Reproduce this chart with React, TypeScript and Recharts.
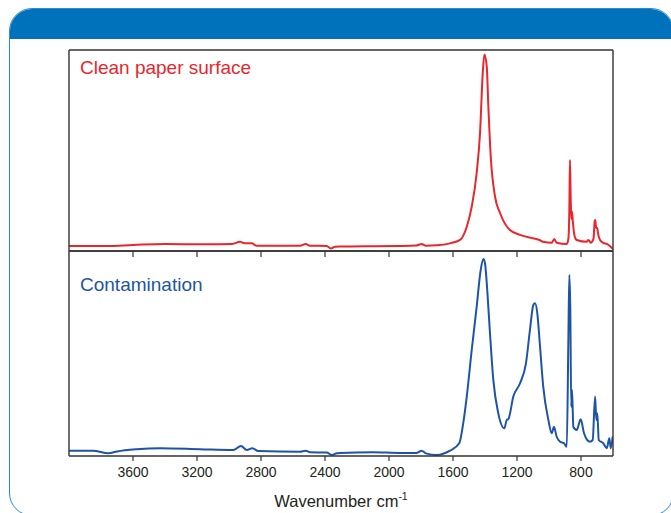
import React from "react";
import { LineChart, Line, XAxis, YAxis } from "recharts";

const xTicks = [3600, 3200, 2800, 2400, 2000, 1600, 1200, 800];

const cleanWavenumber = [
  4000, 3762, 3600, 3400, 3150, 2980, 2931, 2900, 2858, 2827, 2556, 2521, 2494, 2389, 2364, 2337, 2306, 2100,
  1931, 1830, 1796, 1770, 1700, 1619, 1556, 1514, 1483, 1452, 1431, 1414, 1404, 1389, 1379, 1364, 1337, 1306,
  1244, 1181, 1100, 1081, 1060, 1037, 983, 967, 952, 889, 879, 873, 869, 864, 860, 856, 851, 840, 827, 764,
  754, 739, 722, 714, 711, 706, 702, 698, 694, 681, 660, 639, 620, 600,
];
const cleanAbsorbance = [
  0.025, 0.025, 0.03, 0.035, 0.033, 0.035, 0.046, 0.038, 0.038, 0.026, 0.026, 0.035, 0.026, 0.025, 0.013, 0.021,
  0.022, 0.024, 0.025, 0.027, 0.035, 0.026, 0.028, 0.038, 0.055, 0.121, 0.22, 0.388, 0.587, 0.886, 0.977, 0.917,
  0.718, 0.469, 0.27, 0.189, 0.104, 0.08, 0.063, 0.06, 0.055, 0.046, 0.041, 0.06, 0.041, 0.035, 0.06, 0.2, 0.453,
  0.25, 0.16, 0.196, 0.146, 0.075, 0.055, 0.046, 0.055, 0.041, 0.06, 0.15, 0.154, 0.12, 0.114, 0.114, 0.09,
  0.055, 0.04, 0.035, 0.025, 0.01,
];

const contamWavenumber = [
  4000, 3850, 3754, 3700, 3577, 3431, 3181, 2973, 2925, 2889, 2854, 2817, 2556, 2521, 2494, 2389, 2358, 2327,
  2306, 2100, 1931, 1830, 1796, 1770, 1702, 1619, 1561, 1536, 1514, 1483, 1452, 1427, 1410, 1400, 1386, 1369,
  1348, 1317, 1279, 1264, 1254, 1223, 1181, 1144, 1119, 1098, 1087, 1073, 1056, 1036, 1004, 983, 969, 952, 931,
  906, 889, 879, 873, 867, 861, 856, 848, 827, 802, 781, 761, 744, 727, 712, 704, 698, 689, 661, 639, 623, 614,
  602,
];
const contamAbsorbance = [
  0.026, 0.026, 0.013, 0.022, 0.033, 0.038, 0.033, 0.029, 0.049, 0.029, 0.038, 0.024, 0.021, 0.026, 0.018,
  0.017, 0.005, 0.013, 0.015, 0.018, 0.015, 0.015, 0.026, 0.013, 0.005, 0.026, 0.062, 0.16, 0.29, 0.517, 0.728,
  0.907, 0.961, 0.94, 0.81, 0.6, 0.371, 0.208, 0.135, 0.176, 0.18, 0.29, 0.355, 0.452, 0.615, 0.737, 0.745,
  0.696, 0.533, 0.338, 0.176, 0.111, 0.143, 0.094, 0.07, 0.062, 0.045, 0.566, 0.883, 0.728, 0.24, 0.322, 0.143,
  0.127, 0.179, 0.111, 0.078, 0.07, 0.078, 0.29, 0.176, 0.208, 0.078, 0.062, 0.038, 0.086, 0.038, 0.094,
];

const cleanData = cleanWavenumber.map((w, i) => ({ w, a: cleanAbsorbance[i] }));
const contamData = contamWavenumber.map((w, i) => ({ w, a: contamAbsorbance[i] }));

const FONT = "'Liberation Sans', Arial, sans-serif";
const AXIS = "#333333";
const RED = "#e8262c";
const BLUE = "#1d54a6";

// plot area: x 69..613 ; top panel y 50..251 ; bottom panel y 251..456
function Panel({ data, color, height, marginTop, marginBottom, bottomH, showLabels }: any) {
  return (
    <div style={{ position: "absolute", left: 0, top: 0 }}>
      <LineChart
        width={671}
        height={height}
        data={data}
        margin={{ top: marginTop, right: 48, bottom: marginBottom, left: 59 }}
      >
        <XAxis
          xAxisId="b"
          dataKey="w"
          type="number"
          domain={[600, 4000]}
          reversed
          ticks={xTicks}
          height={bottomH}
          orientation="bottom"
          allowDataOverflow
          axisLine={{ stroke: AXIS, strokeWidth: 1.4 }}
          tickLine={{ stroke: AXIS, strokeWidth: 1.2 }}
          tickSize={showLabels ? 5 : 6}
          tickMargin={6}
          tick={{ fontSize: 14, fill: "#231f20", fontFamily: FONT }}
          tickFormatter={(v: number) => (showLabels ? String(v) : "")}
          interval={0}
        />
        <XAxis
          xAxisId="t"
          dataKey="w"
          type="number"
          domain={[600, 4000]}
          reversed
          orientation="top"
          height={10}
          tick={false}
          tickLine={false}
          axisLine={{ stroke: AXIS, strokeWidth: 1.4 }}
        />
        <YAxis
          yAxisId="l"
          type="number"
          domain={[0, 1]}
          width={10}
          tick={false}
          tickLine={false}
          allowDataOverflow
          axisLine={{ stroke: AXIS, strokeWidth: 1.4 }}
        />
        <YAxis
          yAxisId="r"
          orientation="right"
          type="number"
          domain={[0, 1]}
          width={10}
          tick={false}
          tickLine={false}
          axisLine={{ stroke: AXIS, strokeWidth: 1.4 }}
        />
        <Line
          xAxisId="b"
          yAxisId="l"
          dataKey="a"
          type="monotone"
          stroke={color}
          strokeWidth={2}
          dot={false}
          isAnimationActive={false}
        />
      </LineChart>
    </div>
  );
}

export default function App() {
  return (
    <div
      style={{
        position: "absolute",
        left: 0,
        top: 0,
        width: 671,
        height: 513,
        overflow: "hidden",
        background: "#ffffff",
        fontFamily: FONT,
      }}
    >
      <div
        style={{
          position: "absolute",
          left: 9,
          top: 8,
          width: 665,
          height: 508,
          boxSizing: "border-box",
          border: "1.5px solid #2a8ad4",
          borderRadius: 23,
          overflow: "hidden",
        }}
      >
        <div style={{ position: "absolute", left: 0, top: 0, right: 0, height: 30, background: "#0071bb" }} />
      </div>
      <Panel data={cleanData} color={RED} height={260} marginTop={40} marginBottom={0} bottomH={9} showLabels={false} />
      <Panel data={contamData} color={BLUE} height={513} marginTop={241} marginBottom={27} bottomH={30} showLabels={true} />
      <svg
        width={671}
        height={513}
        style={{ position: "absolute", left: 0, top: 0, pointerEvents: "none" }}
      >
        <text x={80} y={74.3} fill={RED} fontSize={19} fontFamily={FONT}>
          Clean paper surface
        </text>
        <text x={80} y={291} fill={BLUE} fontSize={19} fontFamily={FONT}>
          Contamination
        </text>
        <text x={341} y={506.5} textAnchor="middle" fill="#231f20" fontSize={16.5} fontFamily={FONT}>
          Wavenumber cm
          <tspan fontSize={10.5} dy={-7}>
            -1
          </tspan>
        </text>
      </svg>
    </div>
  );
}
